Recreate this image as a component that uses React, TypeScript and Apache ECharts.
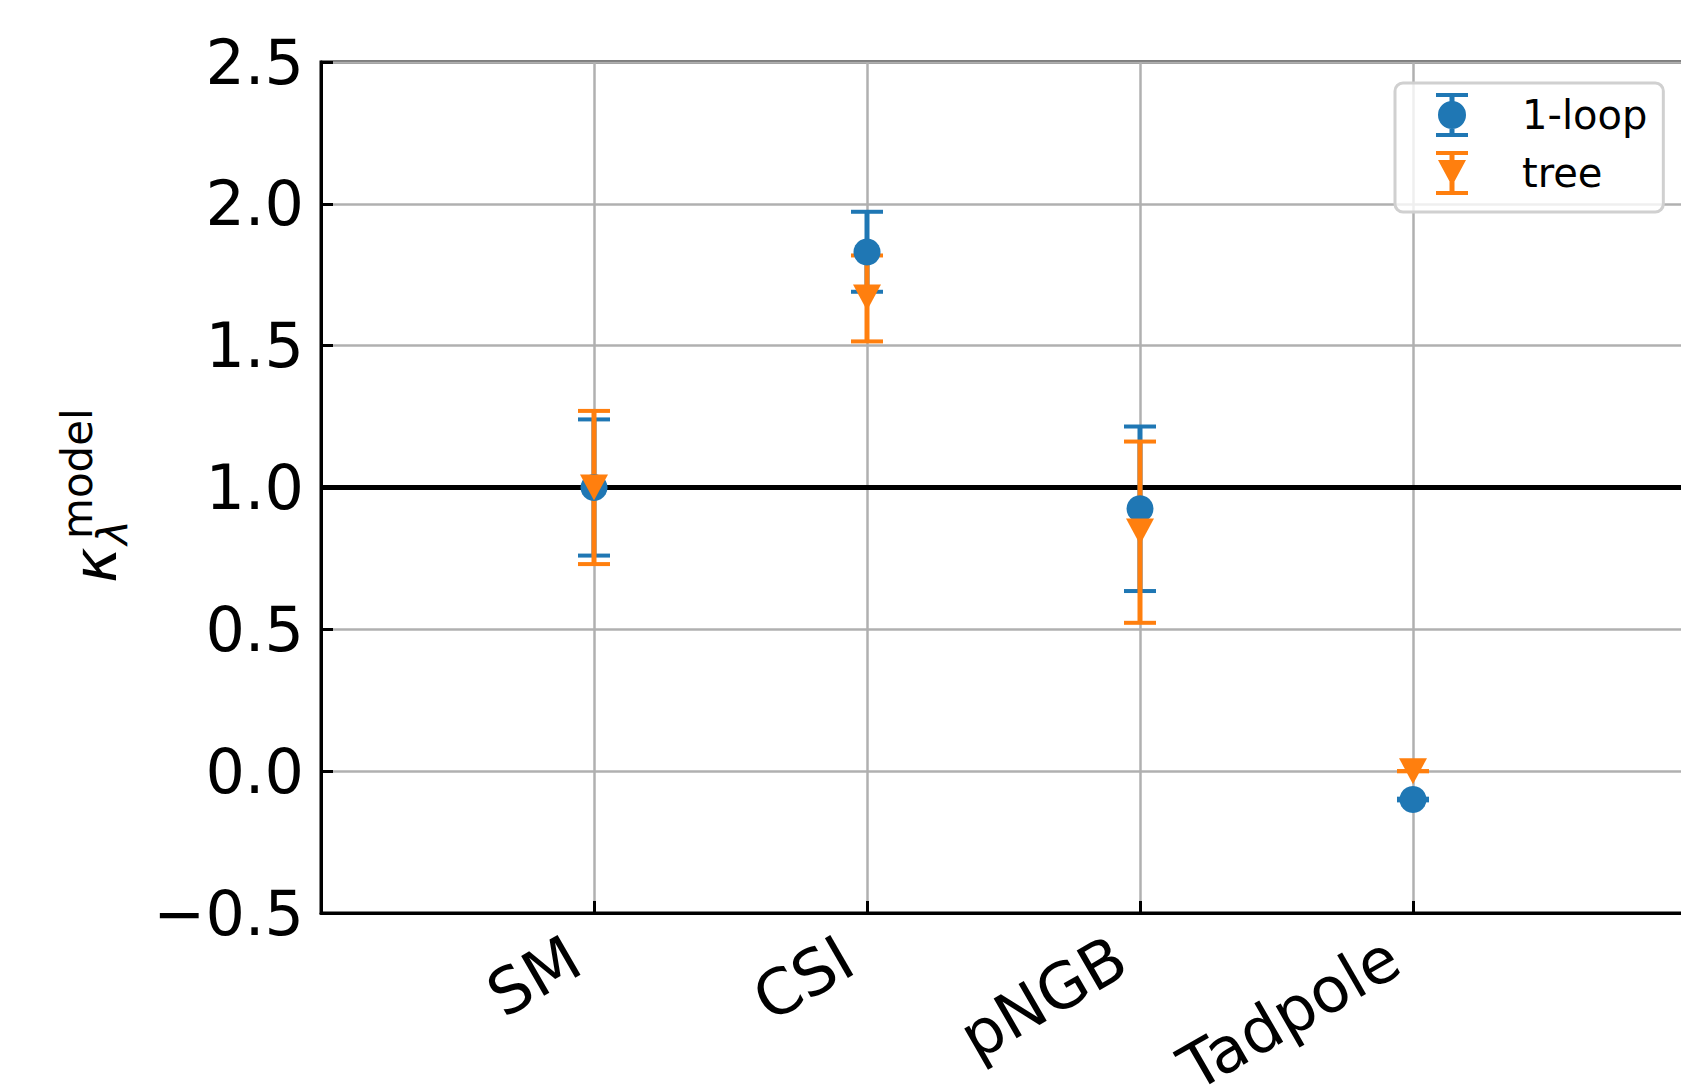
import React, { useEffect, useRef } from "react";
import * as echarts from "echarts";

const categories = ["SM", "CSI", "pNGB", "Tadpole"];
const loopValues = [1.0, 1.83, 0.925, -0.1];
const loopErrLow = [0.24, 0.14, 0.29, 0.003];
const loopErrHigh = [0.24, 0.142, 0.29, 0.003];
const treeValues = [1.0, 1.67, 0.845, 0.0];
const treeErrLow = [0.27, 0.155, 0.322, 0.0];
const treeErrHigh = [0.27, 0.148, 0.317, 0.0];
const yTicks = { min: -0.5, max: 2.5, interval: 0.5 };
const refLineValue = 1.0;

const BLUE = "#1f77b4";
const ORANGE = "#ff7f0e";
const FONT = '"DejaVu Sans", "Liberation Sans", sans-serif';

const loopIcon =
  "path://M0,0H32V4H0Z M0,40H32V44H0Z M13.5,0H18.5V44H13.5Z M2,22A14,14 0 1,1 30,22A14,14 0 1,1 2,22Z";
const treeIcon =
  "path://M0,0H32V4H0Z M0,40H32V44H0Z M13.5,0H18.5V44H13.5Z M2,9H30L16,35Z";

function errData(vals: number[], lo: number[], hi: number[]) {
  return vals.map((v, i) => [i, v, v - lo[i], v + hi[i]]);
}

function makeErrRender(color: string) {
  return (params: any, api: any) => {
    const x = api.value(0);
    const lo = api.coord([x, api.value(2)]);
    const hi = api.coord([x, api.value(3)]);
    const half = 16;
    const style = { stroke: color, lineWidth: 5 };
    const capStyle = { stroke: color, lineWidth: 4 };
    return {
      type: "group",
      children: [
        { type: "line", shape: { x1: lo[0], y1: lo[1], x2: hi[0], y2: hi[1] }, style },
        { type: "line", shape: { x1: lo[0] - half, y1: lo[1], x2: lo[0] + half, y2: lo[1] }, style: capStyle },
        { type: "line", shape: { x1: hi[0] - half, y1: hi[1], x2: hi[0] + half, y2: hi[1] }, style: capStyle },
      ],
    };
  };
}

export default function App() {
  const ref = useRef<HTMLDivElement>(null);
  useEffect(() => {
    const el = ref.current;
    if (!el) return;
    document.documentElement.style.overflow = "hidden";
    document.body.style.overflow = "hidden";
    document.body.style.margin = "0";
    const chart = echarts.init(el, undefined, { renderer: "svg", width: 1681, height: 1088 });
    const option: any = {
      animation: false,
      backgroundColor: "#ffffff",
      grid: {
        left: 321,
        top: 62,
        bottom: 175,
        right: -5,
        outerBoundsMode: "none",
        containLabel: false,
        show: true,
        borderColor: "#000",
        borderWidth: 3,
        backgroundColor: "transparent",
      },
      xAxis: {
        type: "value",
        min: -1,
        max: 4,
        interval: 1,
        axisLine: { show: true, onZero: false, lineStyle: { color: "#000", width: 3 } },
        axisTick: { show: true, inside: true, length: 12, lineStyle: { color: "#000", width: 3 } },
        splitLine: { show: true, lineStyle: { color: "#b0b0b0", width: 2.5 } },
        axisLabel: {
          rotate: 30,
          margin: 29,
          padding: [0, 22, 0, 0],
          fontSize: 63,
          fontFamily: FONT,
          color: "#000",
          formatter: (v: number) => categories[Math.round(v)] ?? "",
        },
      },
      yAxis: {
        type: "value",
        min: yTicks.min,
        max: yTicks.max,
        interval: yTicks.interval,
        axisLine: { show: true, onZero: false, lineStyle: { color: "#000", width: 3 } },
        axisTick: { show: true, inside: true, length: 12, lineStyle: { color: "#000", width: 3 } },
        splitLine: { show: true, lineStyle: { color: "#b0b0b0", width: 2.5 } },
        axisLabel: {
          margin: 17,
          padding: [6, 0, 0, 0],
          fontSize: 62,
          fontFamily: FONT,
          color: "#000",
          formatter: (v: number) => (v < 0 ? "\u2212" + Math.abs(v).toFixed(1) : v.toFixed(1)),
        },
      },
      legend: {
        orient: "vertical",
        left: 1395,
        top: 83,
        padding: [10, 16, 17, 41],
        itemWidth: 32,
        itemHeight: 44,
        itemGap: 14,
        selectedMode: false,
        backgroundColor: "rgba(255,255,255,0.8)",
        borderColor: "#d0d0d0",
        borderWidth: 3,
        borderRadius: 8,
        formatter: (name: string) => "{g|}{t|" + name + "}",
        textStyle: {
          fontSize: 40,
          fontFamily: FONT,
          color: "#000",
          rich: {
            g: { width: 49 },
            t: { fontSize: 40, fontFamily: FONT, color: "#000" },
          },
        },
        data: [
          { name: "1-loop", icon: loopIcon },
          { name: "tree", icon: treeIcon },
        ],
        z: 10,
      },
      graphic: [
        {
          type: "group",
          x: 115,
          y: 490,
          rotation: Math.PI / 2,
          children: [
            {
              type: "text",
              x: -93,
              y: -20,
              style: { text: "\u03ba", fontStyle: "italic", fontSize: 60, fontFamily: FONT, fill: "#000", align: "left", verticalAlign: "middle" },
            },
            {
              type: "text",
              x: -49,
              y: -38,
              style: { text: "model", fontSize: 42, fontFamily: FONT, fill: "#000", align: "left", verticalAlign: "middle" },
            },
            {
              type: "text",
              x: -55,
              y: -2,
              style: { text: "\u03bb", fontStyle: "italic", fontSize: 42, fontFamily: FONT, fill: "#000", align: "left", verticalAlign: "middle" },
            },
          ],
        },
      ],
      series: [
        {
          type: "line",
          name: "ref",
          data: [[-1, refLineValue], [4, refLineValue]],
          symbol: "none",
          lineStyle: { color: "#000", width: 5 },
          z: 1,
          silent: true,
        },
        {
          type: "custom",
          name: "1-loop",
          itemStyle: { color: BLUE },
          data: errData(loopValues, loopErrLow, loopErrHigh),
          renderItem: makeErrRender(BLUE),
          encode: { x: 0, y: [1, 2, 3] },
          z: 2,
        },
        {
          type: "custom",
          name: "tree",
          itemStyle: { color: ORANGE },
          data: errData(treeValues, treeErrLow, treeErrHigh),
          renderItem: makeErrRender(ORANGE),
          encode: { x: 0, y: [1, 2, 3] },
          z: 2,
        },
        {
          type: "scatter",
          name: "1-loop",
          symbol: "circle",
          symbolSize: 27,
          itemStyle: { color: BLUE, opacity: 1 },
          data: loopValues.map((v, i) => [i, v]),
          z: 3,
        },
        {
          type: "scatter",
          name: "tree",
          symbol: "triangle",
          symbolRotate: 180,
          symbolSize: [28, 26],
          itemStyle: { color: ORANGE, opacity: 1 },
          data: treeValues.map((v, i) => [i, v]),
          z: 3,
        },
      ],
    };
    chart.setOption(option);
    return () => chart.dispose();
  }, []);
  return (
    <div
      ref={ref}
      style={{ position: "fixed", left: 0, top: 0, width: 1681, height: 1088, overflow: "hidden" }}
    />
  );
}
